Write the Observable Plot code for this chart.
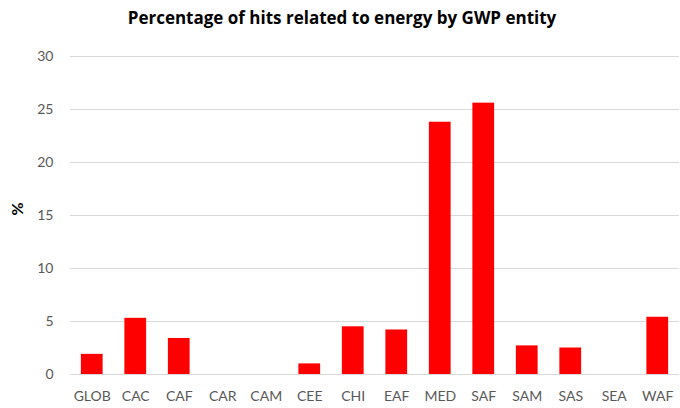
<!DOCTYPE html>
<html>
<head>
<meta charset="utf-8">
<script src="https://cdn.jsdelivr.net/npm/d3@7"></script>
<script src="https://cdn.jsdelivr.net/npm/@observablehq/plot@0.6"></script>
<style>
  html, body { margin: 0; padding: 0; background: #fff; }
  #wrap { width: 680px; height: 408px; position: relative; overflow: hidden; }
  #title { position: absolute; left: 2px; top: 6px; width: 680px; text-align: center;
    font-family: "Open Sans", Lato, sans-serif; font-weight: bold; font-size: 17px; color: #000; }
  #chart { position: absolute; left: 0; top: 0; }
</style>
</head>
<body>
<div id="wrap">
  <div id="chart"></div>
  <div id="title">Percentage of hits related to energy by GWP entity</div>
</div>
<script>
const categories = ["GLOB","CAC","CAF","CAR","CAM","CEE","CHI","EAF","MED","SAF","SAM","SAS","SEA","WAF"];
const values = [1.9, 5.3, 3.4, 0, 0, 1.0, 4.5, 4.2, 23.8, 25.6, 2.7, 2.5, 0, 5.4];
const yTicks = [0, 5, 10, 15, 20, 25, 30];

const data = categories.map((c, i) => ({category: c, value: values[i]}));

const chart = Plot.plot({
  width: 680,
  height: 408,
  marginTop: 56,
  marginBottom: 34,
  marginLeft: 70,
  marginRight: 1,
  style: { fontFamily: "Lato, 'Open Sans', sans-serif", fontSize: "14px", color: "#595959", background: "#fff" },
  x: { domain: categories, paddingInner: 0.5, paddingOuter: 0.25, align: 0.5, round: false, label: null },
  y: { domain: [0, 30], ticks: yTicks, label: null },
  marks: [
    Plot.gridY(yTicks, { stroke: "#d9d9d9", strokeOpacity: 1, strokeWidth: 1 }),
    Plot.barY(data, { x: "category", y: "value", fill: "#ff0000" }),
    Plot.axisX({ tickSize: 0, tickPadding: 17, fontSize: 14, fill: "#595959", label: null }),
    Plot.axisY({ ticks: yTicks, tickSize: 0, tickPadding: 17, fontSize: 14, fill: "#595959", label: null }),
    Plot.text(["%"], { frameAnchor: "left", dx: -53, dy: 0, rotate: -90, fontWeight: "bold", fontSize: 16, fill: "#000" })
  ]
});
document.getElementById("chart").appendChild(chart);
</script>
</body>
</html>
